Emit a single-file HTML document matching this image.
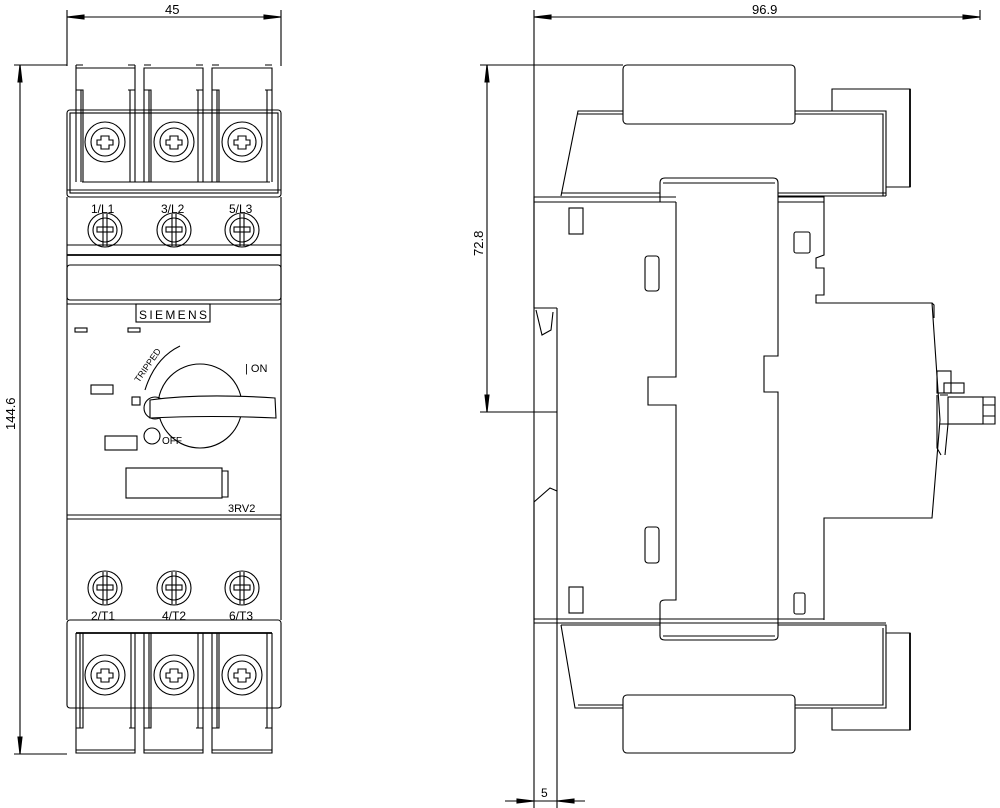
<!DOCTYPE html>
<html><head><style>
html,body{margin:0;padding:0;background:#fff;}
svg{display:block;}
text{font-family:"Liberation Sans",sans-serif;fill:#000;}
</style></head><body>
<svg width="1000" height="808" viewBox="0 0 1000 808" xmlns="http://www.w3.org/2000/svg" fill="none" stroke="#000" stroke-width="1.1">
<!-- LEFT DIMENSIONS -->
<line x1="67" y1="10" x2="67" y2="66"/>
<line x1="281" y1="10" x2="281" y2="66"/>
<line x1="67" y1="17" x2="281" y2="17"/>
<path d="M67 17 L84 15 L84 19 Z M281 17 L264 15 L264 19 Z" fill="#000"/>
<text x="165" y="14" font-size="13" stroke="none">45</text>
<line x1="14" y1="65" x2="67" y2="65"/>
<line x1="14" y1="754" x2="67" y2="754"/>
<line x1="20" y1="65" x2="20" y2="754"/>
<path d="M20 65 L18 82 L22 82 Z M20 754 L18 737 L22 737 Z" fill="#000"/>
<text x="15" y="430" font-size="13" stroke="none" transform="rotate(-90 15 430)">144.6</text>

<!-- LEFT VIEW -->
<rect x="67" y="110" width="214" height="87" rx="3"/>
<rect x="70" y="113" width="208" height="80"/>
<line x1="67" y1="190" x2="281" y2="190"/>
<path d="M76 182 V68 H135 V182 M76 90 H83 V182 M128 90 H135 M81 90 V182 M130 90 V182 M76 65 H83 M128 65 H135 M76 65 V68 M135 65 V68"/>
<path d="M144 182 V68 H203 V182 M144 90 H151 V182 M196 90 H203 M149 90 V182 M198 90 V182 M144 65 H151 M196 65 H203"/>
<path d="M212 182 V68 H272 V182 M212 90 H219 V182 M265 90 H272 M217 90 V182 M267 90 V182 M212 65 H219 M265 65 H272"/>
<line x1="82" y1="182" x2="270" y2="182"/>
<g>
<circle cx="105" cy="142" r="20"/><circle cx="105" cy="142" r="14"/><path d="M101 136 h8 v4 h4 v5 h-4 v4 h-8 v-4 h-4 v-5 h4 z"/>
<circle cx="174" cy="142" r="20"/><circle cx="174" cy="142" r="14"/><path d="M170 136 h8 v4 h4 v5 h-4 v4 h-8 v-4 h-4 v-5 h4 z"/>
<circle cx="242" cy="142" r="20"/><circle cx="242" cy="142" r="14"/><path d="M238 136 h8 v4 h4 v5 h-4 v4 h-8 v-4 h-4 v-5 h4 z"/>
</g>
<line x1="67" y1="197" x2="67" y2="620"/>
<line x1="281" y1="197" x2="281" y2="620"/>
<text x="91" y="213" font-size="12" stroke="none">1/L1</text>
<text x="161" y="213" font-size="12" stroke="none">3/L2</text>
<text x="229" y="213" font-size="12" stroke="none">5/L3</text>
<g>
<circle cx="105" cy="230" r="17"/><circle cx="105" cy="230" r="12"/><rect x="97" y="227" width="16" height="5"/><line x1="103" y1="214" x2="103" y2="246"/><line x1="107" y1="214" x2="107" y2="246"/>
<circle cx="174" cy="230" r="17"/><circle cx="174" cy="230" r="12"/><rect x="166" y="227" width="16" height="5"/><line x1="172" y1="214" x2="172" y2="246"/><line x1="176" y1="214" x2="176" y2="246"/>
<circle cx="242" cy="230" r="17"/><circle cx="242" cy="230" r="12"/><rect x="234" y="227" width="16" height="5"/><line x1="240" y1="214" x2="240" y2="246"/><line x1="244" y1="214" x2="244" y2="246"/>
</g>
<line x1="67" y1="245" x2="281" y2="245"/>
<line x1="67" y1="255" x2="281" y2="255" stroke-width="1.8"/>
<rect x="67" y="265" width="214" height="35" rx="3"/>
<line x1="67" y1="304" x2="281" y2="304"/>
<rect x="136" y="304" width="74" height="18"/>
<text x="139" y="319" font-size="12" stroke="none" textLength="68">SIEMENS</text>
<rect x="75" y="328" width="12" height="4"/>
<rect x="128" y="328" width="12" height="4"/>
<!-- rotary -->
<text x="0" y="0" font-size="9" stroke="none" transform="translate(139 383) rotate(-55)">TRIPPED</text>
<path d="M145 390 Q155 358 180 346"/>
<text x="245" y="372" font-size="11" stroke="none">| ON</text>
<rect x="91" y="385" width="22" height="9"/>
<rect x="132" y="397" width="8" height="8"/>
<circle cx="200" cy="406" r="42"/>
<circle cx="155" cy="408" r="11"/>
<path d="M150 400 Q200 393 275 398 L276 418 Q210 415 150 418 Z" fill="#fff"/>
<rect x="105" y="436" width="32" height="14"/>
<circle cx="152" cy="436" r="8"/>
<text x="162" y="444" font-size="10" stroke="none">OFF</text>
<rect x="126" y="468" width="96" height="30"/>
<path d="M222 471 H228 V497 H222"/>
<text x="228" y="512" font-size="11" stroke="none">3RV2</text>
<line x1="67" y1="515" x2="281" y2="515"/>
<line x1="67" y1="519" x2="281" y2="519"/>
<g>
<circle cx="105" cy="588" r="17"/><circle cx="105" cy="588" r="12"/><rect x="97" y="585" width="16" height="5"/><line x1="103" y1="572" x2="103" y2="604"/><line x1="107" y1="572" x2="107" y2="604"/>
<circle cx="174" cy="588" r="17"/><circle cx="174" cy="588" r="12"/><rect x="166" y="585" width="16" height="5"/><line x1="172" y1="572" x2="172" y2="604"/><line x1="176" y1="572" x2="176" y2="604"/>
<circle cx="242" cy="588" r="17"/><circle cx="242" cy="588" r="12"/><rect x="234" y="585" width="16" height="5"/><line x1="240" y1="572" x2="240" y2="604"/><line x1="244" y1="572" x2="244" y2="604"/>
</g>
<text x="91" y="620" font-size="12" stroke="none">2/T1</text>
<text x="162" y="620" font-size="12" stroke="none">4/T2</text>
<text x="229" y="620" font-size="12" stroke="none">6/T3</text>
<rect x="67" y="620" width="214" height="88" rx="3"/>
<line x1="76" y1="633" x2="272" y2="633" stroke-width="1.8"/>
<path d="M76 633 V753 H135 V633 M80 633 V728 M131 633 V728 M76 728 H83 V633 M129 728 H135"/>
<path d="M144 633 V753 H203 V633 M149 633 V728 M198 633 V728 M144 728 H151 V633 M196 728 H203"/>
<path d="M212 633 V753 H272 V633 M217 633 V728 M267 633 V728 M212 728 H219 V633 M265 728 H272"/>
<path d="M76 750 H135 M144 750 H203 M212 750 H272"/>
<g>
<circle cx="105" cy="675" r="20"/><circle cx="105" cy="675" r="14"/><path d="M101 669 h8 v4 h4 v5 h-4 v4 h-8 v-4 h-4 v-5 h4 z"/>
<circle cx="174" cy="675" r="20"/><circle cx="174" cy="675" r="14"/><path d="M170 669 h8 v4 h4 v5 h-4 v4 h-8 v-4 h-4 v-5 h4 z"/>
<circle cx="242" cy="675" r="20"/><circle cx="242" cy="675" r="14"/><path d="M238 669 h8 v4 h4 v5 h-4 v4 h-8 v-4 h-4 v-5 h4 z"/>
</g>

<!-- RIGHT DIMENSIONS -->
<line x1="534" y1="10" x2="534" y2="808"/>
<line x1="980" y1="10" x2="980" y2="20"/>
<line x1="534" y1="17" x2="980" y2="17"/>
<path d="M534 17 L551 15 L551 19 Z M980 17 L963 15 L963 19 Z" fill="#000"/>
<text x="752" y="14" font-size="13" stroke="none">96.9</text>
<line x1="480" y1="65" x2="623" y2="65"/>
<line x1="480" y1="412" x2="557" y2="412"/>
<line x1="487" y1="65" x2="487" y2="412"/>
<path d="M487 65 L485 82 L489 82 Z M487 412 L485 395 L489 395 Z" fill="#000"/>
<text x="483" y="256" font-size="13" stroke="none" transform="rotate(-90 483 256)">72.8</text>
<line x1="557" y1="308" x2="557" y2="808"/>
<line x1="505" y1="801" x2="585" y2="801"/>
<path d="M534 801 L517 799 L517 803 Z M557 801 L574 799 L574 803 Z" fill="#000"/>
<text x="541" y="797" font-size="12" stroke="none">5</text>

<!-- RIGHT VIEW -->
<rect x="623" y="65" width="172" height="59" rx="4"/>
<path d="M623 111 H578 L561 196 M795 111 H886 V196"/>
<path d="M623 114 H578 M795 114 H883 V196"/>
<path d="M832 111 V89 H910 V187 H886"/>
<line x1="910" y1="89" x2="910" y2="187" stroke-width="1.8"/>
<line x1="561" y1="193" x2="660" y2="193"/>
<line x1="778" y1="193" x2="886" y2="193"/>
<line x1="778" y1="196" x2="886" y2="196"/>
<path d="M660 202 V183 Q660 178 665 178 H773 Q778 178 778 183 V356 H764 V392 H778 V636 Q778 640 773 640 H665 Q660 640 660 636 V604 Q660 600 665 600 H676 V405 H648 V377 H676 V202"/>
<line x1="663" y1="183" x2="775" y2="183"/>
<line x1="663" y1="636" x2="775" y2="636"/>
<path d="M534 308 V197 H676 M534 202 H676"/>
<path d="M534 308 H557 M536 310 L542 335 L551 330 L553 312"/>
<path d="M534 620 V502 L550 488 L557 491"/>
<path d="M778 197 H824 V255 L816 258 V268 H824 V295 H816 V303 H932 L940 420 L932 518 H824 V620 M778 202 H824"/>
<path d="M932 303 L934 305 V318"/>
<!-- knob -->
<rect x="937" y="371" width="14" height="22"/>
<rect x="944" y="383" width="20" height="10"/>
<rect x="948" y="397" width="35" height="27"/>
<path d="M983 397 H995 V424 H983 M983 405 H995 M983 416 H995"/>
<path d="M940 395 H948 M940 424 H948 L945 455"/>
<path d="M937 395 V448 L941 455"/>
<line x1="534" y1="619" x2="824" y2="619"/>
<line x1="534" y1="623" x2="886" y2="623"/>
<path d="M561 625 L575 708 H623 M795 708 H886 V625 H778 M660 625 H561"/>
<path d="M578 705 H623 M795 705 H883 V628"/>
<path d="M886 633 H910 V730 H832 V708"/>
<line x1="910" y1="633" x2="910" y2="730" stroke-width="1.8"/>
<rect x="623" y="695" width="172" height="58" rx="4"/>
<rect x="569" y="208" width="14" height="26"/>
<rect x="645" y="256" width="14" height="35" rx="3"/>
<rect x="794" y="232" width="16" height="21" rx="2"/>
<rect x="645" y="527" width="14" height="36" rx="3"/>
<rect x="569" y="587" width="14" height="26"/>
<rect x="794" y="593" width="11" height="21" rx="2"/>
</svg>
</body></html>
